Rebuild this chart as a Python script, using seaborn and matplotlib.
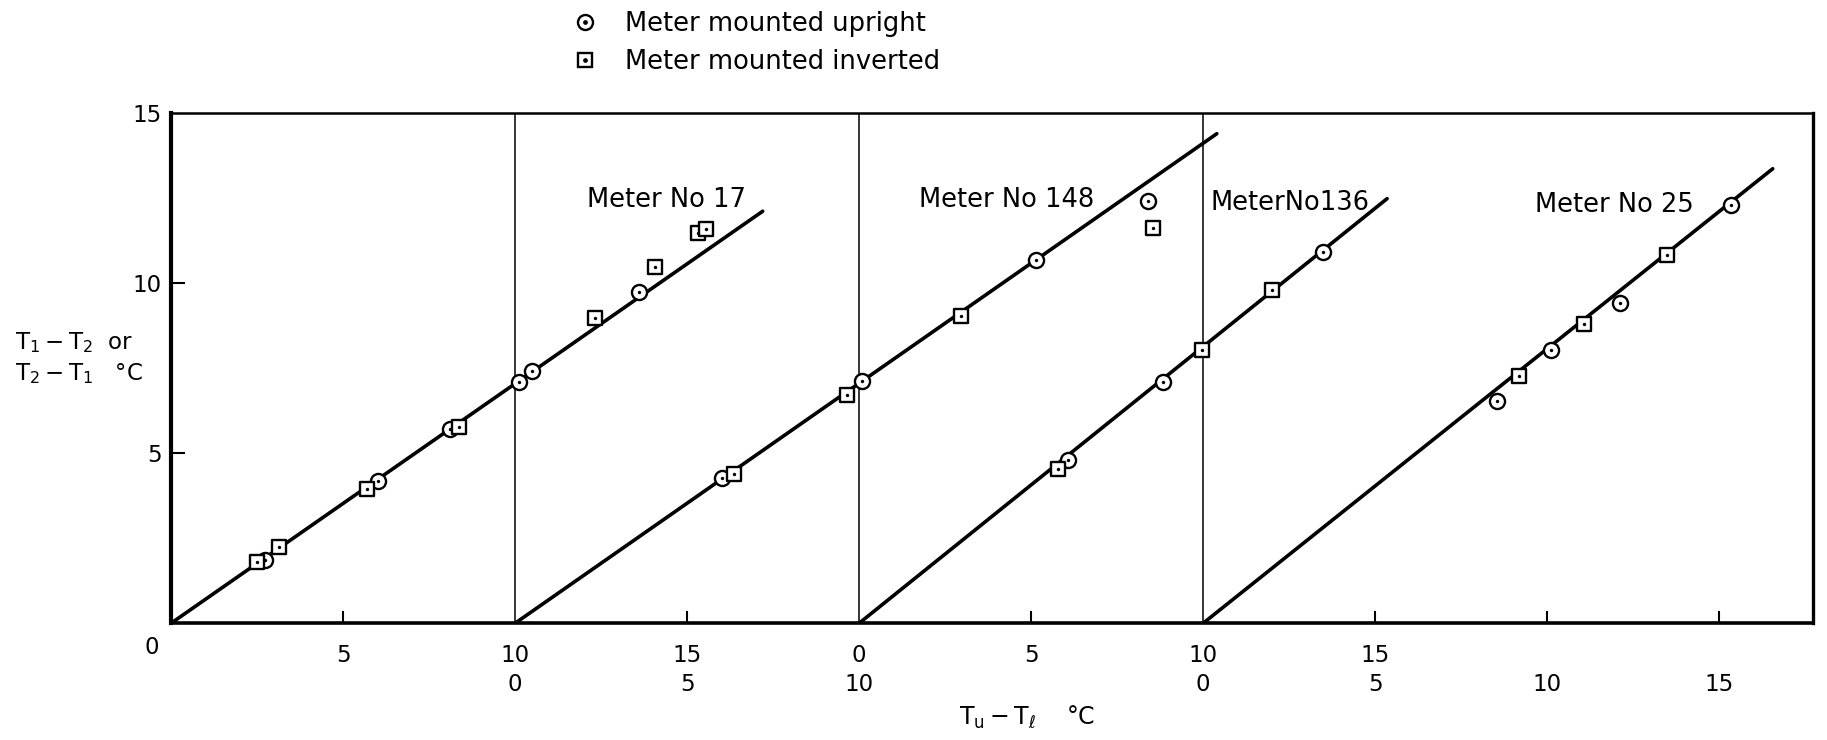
import matplotlib
matplotlib.use("Agg")
import numpy as np
import pandas as pd
import matplotlib.pyplot as plt
import seaborn as sns
from matplotlib.lines import Line2D
from matplotlib.legend_handler import HandlerTuple

# ---------------- data ----------------
meters = ["17", "148", "136", "25"]
meter_origin = [0, 10, 20, 30]          # where each meter's zero sits on the shared axis

# Meter No 17
m17_up_x = [2.74, 6.02, 8.12, 10.11, 10.50, 13.60]
m17_up_y = [1.85, 4.19, 5.71, 7.10, 7.42, 9.74]
m17_inv_x = [2.50, 3.13, 5.70, 8.37, 12.32, 14.06, 15.33, 15.55]
m17_inv_y = [1.80, 2.24, 3.96, 5.77, 8.99, 10.48, 11.48, 11.60]
# Meter No 148
m148_up_x = [6.01, 10.08, 15.13, 18.41]
m148_up_y = [4.26, 7.13, 10.68, 12.41]
m148_inv_x = [6.36, 9.65, 12.95, 18.54]
m148_inv_y = [4.40, 6.71, 9.03, 11.64]
# Meter No 136
m136_up_x = [6.06, 8.85, 13.50]
m136_up_y = [4.79, 7.10, 10.92]
m136_inv_x = [5.79, 9.96, 12.00]
m136_inv_y = [4.55, 8.03, 9.79]
# Meter No 25
m25_up_x = [8.55, 10.12, 12.11, 15.34]
m25_up_y = [6.54, 8.03, 9.43, 12.29]
m25_inv_x = [9.18, 11.07, 13.50]
m25_inv_y = [7.26, 8.81, 10.82]

# fitted straight lines (from each meter's origin to these end points, local coords)
line_end_x = [17.2, 20.4, 15.35, 16.56]
line_end_y = [12.12, 14.4, 12.49, 13.37]

meter_labels = ["Meter No 17", "Meter No 148", "MeterNo136", "Meter No 25"]
meter_label_x = [12.09, 21.74, 30.23, 39.65]
meter_label_y = [12.45, 12.45, 12.36, 12.30]

row1_ticks = [0, 5, 10, 15, 20, 25, 30, 35]
row1_labels = ["", "5", "10", "15", "0", "5", "10", "15"]
row2_ticks = [10, 15, 20, 30, 35, 40, 45]
row2_labels = ["0", "5", "10", "0", "5", "10", "15"]
y_ticks = [5, 10, 15]
y_labels = ["5", "10", "15"]

legend_labels = ["Meter mounted upright", "Meter mounted inverted"]

# ---------------- build long table ----------------
series = {
    "17": (m17_up_x, m17_up_y, m17_inv_x, m17_inv_y),
    "148": (m148_up_x, m148_up_y, m148_inv_x, m148_inv_y),
    "136": (m136_up_x, m136_up_y, m136_inv_x, m136_inv_y),
    "25": (m25_up_x, m25_up_y, m25_inv_x, m25_inv_y),
}
rows = []
for m, org in zip(meters, meter_origin):
    ux, uy, ix, iy = series[m]
    for x, y in zip(ux, uy):
        rows.append(dict(meter=m, mount="upright", X=org + x, Y=y))
    for x, y in zip(ix, iy):
        rows.append(dict(meter=m, mount="inverted", X=org + x, Y=y))
df = pd.DataFrame(rows)

# ---------------- style ----------------
sns.set_style("white")
plt.rcParams["font.family"] = ["DejaVu Sans"]
plt.rcParams["mathtext.fontset"] = "dejavusans"
plt.rcParams["mathtext.default"] = "regular"
for k in ["text.color", "axes.labelcolor", "xtick.color", "ytick.color", "axes.edgecolor"]:
    plt.rcParams[k] = "black"

FS = 18.5
TFS = 16.5

fig = plt.figure(figsize=(18.27, 7.40), dpi=100)
ax = fig.add_axes([171 / 1827, 1 - 623.3 / 740, (1813 - 171) / 1827, 510 / 740])

# fitted lines
for m, org, ex, ey in zip(meters, meter_origin, line_end_x, line_end_y):
    ldf = pd.DataFrame({"X": [org, org + ex], "Y": [0, ey]})
    sns.lineplot(data=ldf, x="X", y="Y", color="black", lw=2.6, ax=ax,
                 zorder=3, estimator=None, sort=False)

# panel dividers
for org in meter_origin[1:]:
    ax.axvline(org, color="black", lw=1.1, zorder=2)

# markers
up = df[df.mount == "upright"]
inv = df[df.mount == "inverted"]
sns.scatterplot(data=up, x="X", y="Y", marker="o", s=118, color="white",
                edgecolor="black", linewidth=1.7, zorder=4, ax=ax, legend=False)
sns.scatterplot(data=inv, x="X", y="Y", marker="s", s=88, color="white",
                edgecolor="black", linewidth=1.7, zorder=4, ax=ax, legend=False)
sns.scatterplot(data=df, x="X", y="Y", marker="o", s=6, color="black",
                linewidth=0, zorder=5, ax=ax, legend=False)

ax.set_xlim(0, 47.73)
ax.set_ylim(0, 15)

# spines
for side, w in {"left": 3.0, "bottom": 2.6, "right": 2.4, "top": 1.8}.items():
    ax.spines[side].set_visible(True)
    ax.spines[side].set_linewidth(w)
    ax.spines[side].set_color("black")

# x ticks: two rows of labels
ax.set_xticks(row1_ticks, row1_labels)
ax.set_xticks(row2_ticks, row2_labels, minor=True)
ax.xaxis.remove_overlapping_locs = False
ax.tick_params(axis="x", which="major", direction="in", length=9, width=1.5,
               pad=15, labelsize=TFS, bottom=True, top=False, colors="black")
ax.tick_params(axis="x", which="minor", direction="in", length=9, width=1.5,
               pad=36, labelsize=TFS, bottom=True, top=False, colors="black")
for t, pos in zip(ax.xaxis.get_major_ticks(), row1_ticks):
    t.tick1line.set_visible(pos not in meter_origin)
for t, pos in zip(ax.xaxis.get_minor_ticks(), row2_ticks):
    t.tick1line.set_visible(pos not in meter_origin and pos not in row1_ticks)

ax.set_yticks(y_ticks, y_labels)
ax.tick_params(axis="y", direction="in", length=10, width=1.5, pad=6.5,
               labelsize=TFS, left=True, right=False, colors="black")
for t, pos in zip(ax.yaxis.get_major_ticks(), y_ticks):
    t.tick1line.set_visible(pos != 15)

# shared corner zero
ax.annotate("0", xy=(0, 0), xycoords="data", xytext=(-19.5, -24.7),
            textcoords="offset pixels", ha="center", va="center", fontsize=TFS)

# axis labels
ax.set_ylabel("$T_1 - T_2$  or\n$T_2 - T_1$   °C", rotation=0, ha="left",
              va="center", fontsize=TFS, multialignment="left", linespacing=1.3)
ax.yaxis.set_label_coords(-0.095, 0.52)
ax.set_xlabel("$T_u - T_\\ell$    °C", ha="left", va="center", fontsize=TFS + 0.5)
ax.xaxis.set_label_coords(0.48, -0.184)

# meter labels
for lab, lx, ly in zip(meter_labels, meter_label_x, meter_label_y):
    ax.text(lx, ly, lab, ha="left", va="center", fontsize=FS, zorder=6)

# legend
h_up = (Line2D([], [], ls="none", marker="o", ms=10.8, mfc="white", mec="black", mew=1.7),
        Line2D([], [], ls="none", marker="o", ms=2.4, mfc="black", mec="black"))
h_inv = (Line2D([], [], ls="none", marker="s", ms=9.4, mfc="white", mec="black", mew=1.7),
         Line2D([], [], ls="none", marker="o", ms=2.4, mfc="black", mec="black"))
fig.legend([h_up, h_inv], legend_labels,
           handler_map={tuple: HandlerTuple(ndivide=1)},
           loc="upper left", bbox_to_anchor=(572 / 1827, 1 - 11 / 740),
           frameon=False, borderpad=0, borderaxespad=0, handlelength=1.0,
           handletextpad=1.06, labelspacing=0.48, fontsize=FS)

fig.savefig("out.png", dpi=100, facecolor="white")
